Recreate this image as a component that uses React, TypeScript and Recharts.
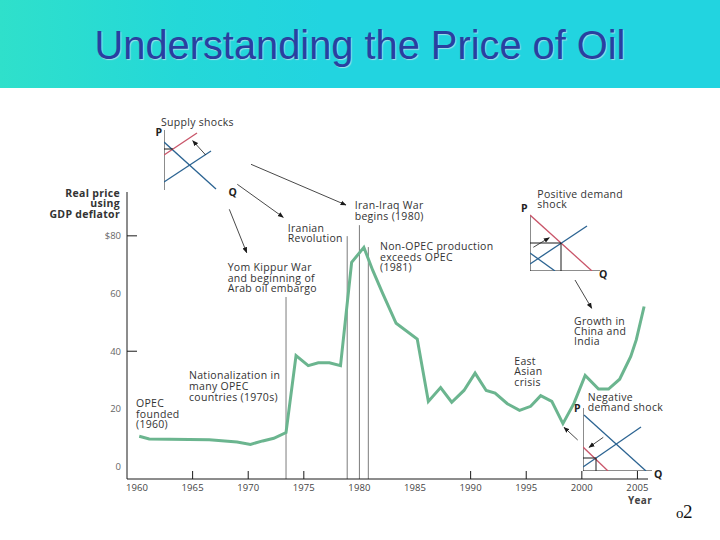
import { ComposedChart, LineChart, Line, ReferenceLine, XAxis, YAxis } from 'recharts';

const years = [1960.2, 1961.1, 1966.5, 1969, 1970.2, 1971.3, 1972.3, 1973.4, 1974.3, 1975.4, 1976.3, 1977.3, 1978.3, 1979.3, 1980.4, 1981.2, 1982.1, 1983.3, 1985.2, 1986.2, 1987.3, 1988.3, 1989.4, 1990.4, 1991.4, 1992.2, 1993.3, 1994.4, 1995.4, 1996.3, 1997.3, 1998.3, 1999.3, 2000.3, 2001.5, 2002.4, 2003.4, 2004.4, 2004.9, 2005.6];
const prices = [10.5, 9.6, 9.3, 8.5, 7.7, 8.9, 9.8, 11.8, 38.5, 35, 36, 36, 35, 70.8, 76, 68, 60, 49.7, 44.2, 22.6, 27.4, 22.3, 26.4, 32.4, 26.4, 25.5, 21.8, 19.5, 20.9, 24.6, 22.6, 14.9, 22, 31.6, 26.9, 26.9, 30.3, 38.2, 44, 55.5];

const xTicks = [1960, 1965, 1970, 1975, 1980, 1985, 1990, 1995, 2000, 2005];
const xMarked = [1965, 1970, 1975, 1990, 1995, 2000, 2005];
const yTicks = [0, 20, 40, 60, 80];
const yMarked = [40, 80];

const eventYears = [1973.4, 1978.9, 1980, 1980.8];
const eventTops = [58.8, 79.9, 83.7, 76.1];

const priceData = years.map((year, i) => ({ year, price: prices[i] }));

type Pt = { q: number; p: number };
const seg = (a: number, b: number, c: number, d: number): Pt[] => [{ q: a, p: b }, { q: c, p: d }];

const BLUE = '#2c6492';
const RED = '#c9566a';
const BLACK = '#1a1a1a';

const supplyDemand = seg(0, 48, 52, 1);
const supplyOld = seg(0, 8, 47, 39);
const supplyNew = seg(0, 35, 33, 57);
const supplyPrice = seg(0, 41, 9, 41);
const supplyAxis = seg(0, 0, 0, 60);

const posDemandNew = seg(0, 56, 62, 0);
const posSupply = seg(0, 7, 57, 45);
const posDemandOld = seg(0, 18, 25, 0);
const posPrice = seg(0, 28, 31, 28);
const posQty = seg(31, 0, 31, 28);
const posAxisP = seg(0, 0, 0, 56);
const posAxisQ = seg(0, 0, 70, 0);

const negDemandOld = seg(1, 56, 63, 0);
const negSupply = seg(0, 4, 58, 44);
const negDemandNew = seg(0, 24, 25, 0);
const negPrice = seg(0, 13, 13, 13);
const negQty = seg(13, 0, 13, 13);
const negAxisP = seg(0, 0, 0, 63);
const negAxisQ = seg(0, 0, 69, 0);

type Label = { x: number; y: number; lines: string[]; step: number };
const labels: Label[] = [
  { x: 161, y: 126, lines: ['Supply shocks'], step: 0 },
  { x: 287.7, y: 232, lines: ['Iranian', 'Revolution'], step: 10.2 },
  { x: 227.7, y: 271, lines: ['Yom Kippur War', 'and beginning of', 'Arab oil embargo'], step: 10.6 },
  { x: 354.7, y: 209, lines: ['Iran-Iraq War', 'begins (1980)'], step: 10.6 },
  { x: 380, y: 250, lines: ['Non-OPEC production', 'exceeds OPEC', '(1981)'], step: 10.5 },
  { x: 574, y: 324.7, lines: ['Growth in', 'China and', 'India'], step: 10.2 },
  { x: 514.3, y: 365, lines: ['East', 'Asian', 'crisis'], step: 10.4 },
  { x: 189, y: 379.3, lines: ['Nationalization in', 'many OPEC', 'countries (1970s)'], step: 10.8 },
  { x: 136, y: 406.7, lines: ['OPEC', 'founded', '(1960)'], step: 10.8 },
  { x: 537.3, y: 197.7, lines: ['Positive demand', 'shock'], step: 10.4 },
  { x: 587.7, y: 400.7, lines: ['Negative', 'demand shock'], step: 10 },
];

const arrows = [
  [251, 164.3, 346, 205],
  [237.3, 184.3, 283.3, 217.3],
  [229.3, 209.3, 246.7, 252.7],
  [575, 280, 591.7, 308.3],
  [577.7, 440, 564, 427.3],
  [205.7, 155, 192.7, 140.7],
  [533.3, 247.3, 549.3, 237.7],
  [603.3, 437.3, 589, 447.3],
];

const FONT = '"Open Sans", sans-serif';

function XTick({ x, y, payload }: any) {
  return (
    <g>
      {xMarked.includes(payload.value) && <line x1={x} x2={x} y1={y - 8} y2={y} stroke={BLACK} />}
      <text x={x} y={y + 12} textAnchor="middle" fontSize={9.5} letterSpacing={0.1} fontFamily={FONT} fill="#444">
        {payload.value}
      </text>
    </g>
  );
}

function YTick({ x, y, payload }: any) {
  return (
    <g>
      {yMarked.includes(payload.value) && <line x1={x} x2={x + 10} y1={y} y2={y} stroke={BLACK} />}
      <text x={x - 6} y={y + 3.5} textAnchor="end" fontSize={9.5} fontFamily={FONT} fill="#666">
        {payload.value === 80 ? '$80' : payload.value}
      </text>
    </g>
  );
}

function Inset({ left, bottom, w, h, lines }: { left: number; bottom: number; w: number; h: number; lines: [Pt[], string, number?][] }) {
  return (
    <div style={{ position: 'absolute', left, top: bottom - h, width: w, height: h }}>
      <LineChart width={w} height={h} margin={{ top: 0, right: 0, bottom: 0, left: 0 }} style={{ overflow: 'visible' }}>
        <XAxis type="number" dataKey="q" domain={[0, w]} hide />
        <YAxis type="number" domain={[0, h]} hide />
        {lines.map(([pts, color, width], i) => (
          <Line key={i} data={pts} dataKey="p" stroke={color} strokeWidth={width ?? 1.3} dot={false} isAnimationActive={false} />
        ))}
      </LineChart>
    </div>
  );
}

export default function App() {
  return (
    <div style={{ position: 'absolute', left: 0, top: 0, width: 720, height: 540, background: '#fff', overflow: 'hidden' }}>
      <div
        style={{
          position: 'absolute', left: 0, top: 0, width: 720, height: 88,
          background: 'linear-gradient(90deg, #2fe0cb 0%, #24d8d8 25%, #22d4e0 45%, #22d4e0 100%)',
        }}
      />
      <div
        style={{
          position: 'absolute', left: 0, top: 22, width: 720, textAlign: 'center',
          fontFamily: '"Liberation Sans", sans-serif', fontSize: 39.8, lineHeight: '46px',
          color: '#2a3fa0', textShadow: '1px 1px 1px rgba(170,225,235,0.9)',
        }}
      >
        Understanding the Price of Oil
      </div>

      <div style={{ position: 'absolute', left: 0, top: 0 }}>
        <ComposedChart width={720} height={540} data={priceData} margin={{ top: 192, right: 72, bottom: 31, left: 67 }}>
          <XAxis
            type="number"
            dataKey="year"
            domain={[1959.1, 2005.95]}
            allowDataOverflow
            ticks={xTicks}
            interval={0}
            height={30}
            tickLine={false}
            tickSize={0}
            tickMargin={0}
            tick={<XTick />}
            stroke={BLACK}
          />
          <YAxis
            type="number"
            domain={[-4.3, 95.2]}
            allowDataOverflow
            ticks={yTicks}
            interval={0}
            width={60}
            tickLine={false}
            tickSize={0}
            tickMargin={0}
            tick={<YTick />}
            stroke={BLACK}
          />
          {eventYears.map((yr, i) => (
            <ReferenceLine
              key={yr}
              segment={[{ x: yr, y: -4.3 }, { x: yr, y: eventTops[i] }]}
              stroke="#7c7c7c"
            />
          ))}
          <Line dataKey="price" stroke="#6bb58f" strokeWidth={3} dot={false} isAnimationActive={false} />
        </ComposedChart>
      </div>

      <Inset left={164.3} bottom={190} w={60} h={60}
        lines={[[supplyAxis, BLACK, 1], [supplyDemand, BLUE], [supplyOld, BLUE], [supplyNew, RED], [supplyPrice, BLACK, 1]]} />
      <Inset left={529.7} bottom={271} w={72} h={58}
        lines={[[posAxisP, BLACK, 1], [posAxisQ, BLACK, 1], [posDemandNew, RED], [posSupply, BLUE], [posDemandOld, BLUE], [posPrice, BLACK, 1], [posQty, BLACK, 1]]} />
      <Inset left={582.7} bottom={471} w={70} h={64}
        lines={[[negAxisP, BLACK, 1], [negAxisQ, BLACK, 1], [negDemandOld, BLUE], [negSupply, BLUE], [negDemandNew, RED], [negPrice, BLACK, 1], [negQty, BLACK, 1]]} />

      <svg width={720} height={540} style={{ position: 'absolute', left: 0, top: 0 }}>
        <defs>
          <marker id="head" viewBox="0 0 10 10" refX="9" refY="5" markerWidth="6" markerHeight="6" markerUnits="userSpaceOnUse" orient="auto">
            <path d="M0 1 L10 5 L0 9 Z" fill={BLACK} />
          </marker>
        </defs>
        {arrows.map(([x1, y1, x2, y2], i) => (
          <line key={i} x1={x1} y1={y1} x2={x2} y2={y2} stroke={BLACK} strokeWidth={0.8} markerEnd="url(#head)" />
        ))}
        {labels.map((l) => (
          <text key={l.lines[0]} x={l.x} y={l.y} fontSize={10.5} letterSpacing={0.3} fontFamily={FONT} fill="#333">
            {l.lines.map((line, i) => (
              <tspan key={line} x={l.x} y={l.y + i * l.step}>{line}</tspan>
            ))}
          </text>
        ))}
        <text textAnchor="end" fontSize={10.5} letterSpacing={0.3} fontWeight={700} fontFamily={FONT} fill="#333">
          <tspan x={120} y={196.7}>Real price</tspan>
          <tspan x={120} y={207.3}>using</tspan>
          <tspan x={120} y={218}>GDP deflator</tspan>
        </text>
        <text x={652} y={504} textAnchor="end" fontSize={10} letterSpacing={0.3} fontWeight={700} fontFamily={FONT} fill="#444">Year</text>
        <g fontSize={10.5} fontWeight={700} fontFamily={FONT} fill="#222">
          <text x={155.5} y={136}>P</text>
          <text x={228.5} y={196}>Q</text>
          <text x={521} y={212}>P</text>
          <text x={599} y={278}>Q</text>
          <text x={574} y={412}>P</text>
          <text x={654} y={478}>Q</text>
        </g>
        <text x={676} y={518} fontSize={15} fontFamily='"Liberation Serif", serif' fill="#111">o</text>
        <text x={683} y={518} fontSize={19} fontFamily='"Liberation Serif", serif' fill="#111">2</text>
      </svg>
    </div>
  );
}
